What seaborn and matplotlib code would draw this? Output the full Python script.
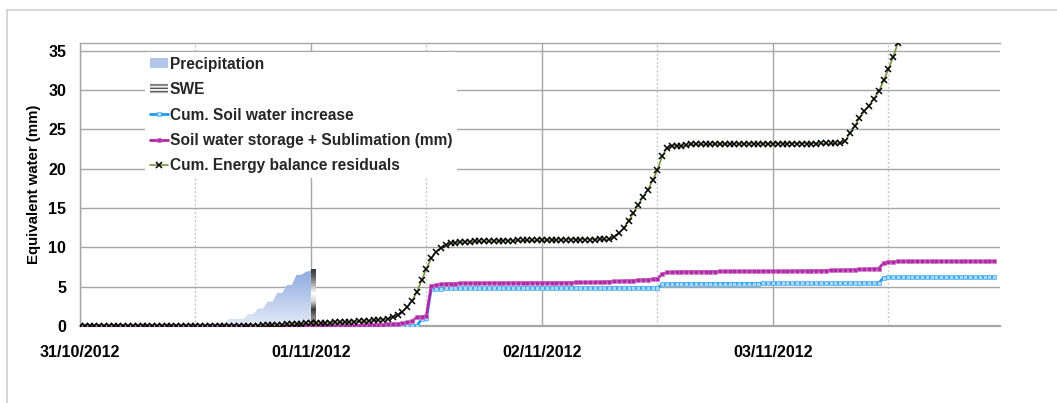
import numpy as np
import pandas as pd
import matplotlib
matplotlib.use("Agg")
import matplotlib.pyplot as plt
import seaborn as sns
from matplotlib.patches import Patch
from matplotlib.lines import Line2D
from matplotlib.colors import LinearSegmentedColormap

# ---------------- data (half-hourly steps from 31/10/2012 00:00) ----------------
tick_labels = ["31/10/2012", "01/11/2012", "02/11/2012", "03/11/2012"]
steps_per_day = 48

precipitation = ([0.0] * 27 + [0.4] * 4 + [0.9] * 4 + [1.5, 1.5, 2.2, 2.2, 3.1, 3.1,
                 4.2, 4.2, 5.2, 5.2, 6.5, 6.5, 6.9, 7.0])

swe_step = [48]
swe_values = [7.3]

energy_residuals = (
    [0.0] * 35
    + [0.02, 0.04, 0.06, 0.08, 0.10, 0.12, 0.15, 0.18, 0.20, 0.23, 0.26, 0.30, 0.33]
    + [0.35, 0.37, 0.39, 0.41, 0.43, 0.45, 0.47, 0.50, 0.52, 0.55, 0.58, 0.62, 0.66, 0.70, 0.75, 0.82]
    + [0.90, 1.10, 1.40, 1.80, 2.40, 3.20, 4.30, 5.80, 7.30, 8.60, 9.40, 9.90, 10.30, 10.50, 10.60, 10.65]
    + [10.70, 10.72, 10.74, 10.76, 10.78, 10.80, 10.80, 10.82, 10.84, 10.85, 10.86, 10.87, 10.88,
       10.90, 10.90, 10.91, 10.92, 10.93, 10.94, 10.95, 10.95, 10.96, 10.97, 10.97, 10.98, 10.98,
       10.99, 10.99, 11.00, 11.00, 11.00]
    + [11.3, 11.8, 12.4, 13.4, 14.3, 15.4, 16.4, 17.3, 18.5, 19.8, 21.6, 22.6, 22.9, 22.9, 22.9, 22.95]
    + [23.10, 23.10, 23.11, 23.11, 23.12, 23.12, 23.13, 23.13, 23.14, 23.14, 23.15, 23.15, 23.15,
       23.16, 23.16, 23.16, 23.17, 23.17, 23.17, 23.18, 23.18, 23.18, 23.18, 23.19, 23.19, 23.19,
       23.19, 23.20, 23.20, 23.20, 23.20]
    + [23.2]
    + [23.5, 24.5, 25.4, 26.4, 27.3, 28.0, 28.9, 29.8, 31.2, 32.6, 34.2, 36.0, 37.5]
)

soil_storage_sublimation = (
    [0.0] * 56
    + [0.02, 0.04, 0.06, 0.08, 0.10, 0.12, 0.15, 0.18]
    + [0.20, 0.25, 0.30, 0.35, 0.45, 0.60, 1.10, 1.20, 1.30]
    + [5.10, 5.20, 5.30, 5.35, 5.40, 5.40, 5.45, 5.45]
    + [5.45, 5.45, 5.46, 5.46, 5.47, 5.47, 5.48, 5.48, 5.48, 5.49, 5.49, 5.49, 5.50, 5.50, 5.50,
       5.50, 5.51, 5.51, 5.51, 5.52, 5.52, 5.52, 5.53, 5.53, 5.53]
    + [5.55, 5.57, 5.59, 5.61, 5.63, 5.66, 5.69, 5.72, 5.75, 5.78, 5.82, 5.86, 5.90, 5.95, 6.00]
    + [6.60, 6.80, 6.85, 6.88, 6.90, 6.90, 6.91, 6.91, 6.92, 6.92]
    + [6.92, 6.92, 6.93, 6.93, 6.93, 6.94, 6.94, 6.94, 6.95, 6.95, 6.95, 6.96, 6.96, 6.96, 6.97,
       6.97, 6.97, 6.98, 6.98, 7.00]
    + [7.01, 7.02, 7.03, 7.04, 7.05, 7.06, 7.08, 7.10, 7.12, 7.14, 7.16, 7.18, 7.21, 7.24, 7.27, 7.30]
    + [8.00, 8.10, 8.15] + [8.2] * 21
)

soil_water_increase = (
    [0.0] * 71
    + [0.90, 1.00]
    + [4.75, 4.76, 4.76, 4.77, 4.77, 4.77, 4.78, 4.78, 4.78, 4.78, 4.79, 4.79, 4.79, 4.79, 4.79, 4.80,
       4.80, 4.80, 4.80, 4.80, 4.80, 4.80, 4.81, 4.81, 4.81, 4.81, 4.81, 4.81, 4.81, 4.81, 4.82, 4.82,
       4.82, 4.82, 4.82, 4.82, 4.82, 4.82, 4.82, 4.82, 4.82, 4.82, 4.83, 4.83, 4.83, 4.83, 4.83, 4.83]
    + [5.30, 5.33, 5.35, 5.36, 5.36, 5.37, 5.37, 5.37, 5.38, 5.38, 5.38, 5.38, 5.39, 5.39, 5.39, 5.39,
       5.40, 5.40, 5.40, 5.40, 5.40, 5.41, 5.41, 5.41, 5.41, 5.41, 5.41, 5.42, 5.42, 5.42, 5.42, 5.42,
       5.42, 5.42, 5.42, 5.43, 5.43, 5.43, 5.43, 5.43, 5.43, 5.43, 5.43, 5.44, 5.44, 5.44]
    + [6.15] + [6.2] * 23
)

# ---------------- styling ----------------
sns.set_theme(style="white")
plt.rcParams["font.family"] = ["Liberation Sans", "DejaVu Sans"]
plt.rcParams["font.weight"] = "bold"

fig = plt.figure(figsize=(10.57, 4.03), dpi=100)
ax = fig.add_axes([80 / 1057, 1 - 326 / 403, 920 / 1057, (326 - 42.7) / 403])

grid_c = "#a6a6a6"
fs_leg = 11.2
fs_tick = 11.5
fs_lab = 10.8

# precipitation area with vertical gradient
px = np.arange(len(precipitation))
poly = ax.fill_between(px, 0, precipitation, color="none", lw=0, zorder=2)
pcmap = LinearSegmentedColormap.from_list("pg", ["#e4ebf6", "#8eaadf"])
grad = np.linspace(0, 1, 256).reshape(-1, 1)
im = ax.imshow(grad, cmap=pcmap, origin="lower", aspect="auto",
               extent=(px.min(), px.max(), 0, max(precipitation)), zorder=2)
im.set_clip_path(poly.get_paths()[0], transform=ax.transData)

# SWE bar with metallic gradient
bars = ax.bar(swe_step, swe_values, width=1.0, align="edge", color="none", lw=0, zorder=3)
scmap = LinearSegmentedColormap.from_list(
    "sg", ["#2a2a2a", "#8a8a8a", "#3a3a3a", "#d8d8d8", "#ffffff", "#b0b0b0", "#606060", "#2e2e2e"])
for b, v, s in zip(bars, swe_values, swe_step):
    im2 = ax.imshow(grad, cmap=scmap, origin="lower", aspect="auto",
                    extent=(s, s + 1, 0, v), zorder=3)
    im2.set_clip_path(b)

# lines
blue_c = "#1e9cf0"
mag_c = "#b02aa6"
green_c = "#77933c"

sns.lineplot(x=np.arange(len(soil_water_increase)), y=soil_water_increase, ax=ax, color=blue_c,
             lw=2.0, marker="s", markersize=2.2, markerfacecolor="#a8d8fb",
             markeredgecolor=blue_c, markeredgewidth=0.4, zorder=4)
sns.lineplot(x=np.arange(len(soil_storage_sublimation)), y=soil_storage_sublimation, ax=ax,
             color=mag_c, lw=2.0, marker="s", markersize=3.0, markerfacecolor=mag_c,
             markeredgecolor="#d070c8", markeredgewidth=0.4, zorder=5)
sns.lineplot(x=np.arange(len(energy_residuals)), y=energy_residuals, ax=ax, color=green_c,
             lw=1.2, marker="x", markersize=3.8, markeredgecolor="black",
             markeredgewidth=1.1, zorder=6)

# axes
n_days = len(tick_labels)
ax.set_xlim(0, len(soil_water_increase) + 0.2)
ax.set_ylim(0, 36)
ax.set_yticks(np.arange(0, 36, 5))
ax.set_xticks(np.arange(n_days) * steps_per_day)
ax.set_xticklabels(tick_labels)
ax.set_xticks(np.arange(n_days) * steps_per_day + steps_per_day // 2, minor=True)

ax.grid(axis="y", which="major", color=grid_c, lw=1.0, zorder=0)
ax.grid(axis="x", which="major", color=grid_c, lw=1.0, zorder=0)
ax.grid(axis="x", which="minor", color="#c8c8c8", lw=1.0, ls=(0, (1.5, 1.5)), zorder=0)
ax.set_axisbelow(True)

for side in ["left", "top"]:
    ax.spines[side].set_color(grid_c)
    ax.spines[side].set_linewidth(1.0)
ax.spines["bottom"].set_color(grid_c)
ax.spines["bottom"].set_linewidth(1.6)
ax.spines["right"].set_visible(False)

ax.tick_params(axis="both", which="major", direction="out", length=6, width=1,
               color=grid_c, labelsize=fs_tick, labelcolor="black")
ax.tick_params(axis="x", which="major", pad=8)
ax.tick_params(axis="y", which="major", pad=4)
ax.tick_params(axis="x", which="minor", length=0)
for lab in ax.get_xticklabels() + ax.get_yticklabels():
    lab.set_fontweight("bold")

ax.set_ylabel("Equivalent water (mm)", fontsize=fs_lab, fontweight="bold", color="black",
              labelpad=5)
ax.set_xlabel("")

# legend
handles = [
    Patch(facecolor="#b3c6e9", edgecolor="none"),
    Patch(facecolor="#f0f0f0", edgecolor="#555555", hatch="-----", lw=0),
    Line2D([], [], color=blue_c, lw=2.0, marker="s", markersize=2.2,
           markerfacecolor="#a8d8fb", markeredgecolor=blue_c, markeredgewidth=0.4),
    Line2D([], [], color=mag_c, lw=2.0, marker="s", markersize=3.0,
           markerfacecolor=mag_c, markeredgecolor="#d070c8", markeredgewidth=0.4),
    Line2D([], [], color=green_c, lw=1.2, marker="x", markersize=3.8,
           markeredgecolor="black", markeredgewidth=1.1),
]
labels = ["Precipitation", "SWE", "Cum. Soil water increase",
          "Soil water storage + Sublimation (mm)", "Cum. Energy balance residuals"]
leg = ax.legend(handles, labels, loc="upper left", bbox_to_anchor=(0.071, 0.967),
                frameon=True, facecolor="white", edgecolor="none", framealpha=1,
                prop={"weight": "bold", "size": fs_leg},
                handlelength=1.15, handleheight=0.65, handletextpad=0.12,
                labelspacing=0.67, borderpad=0.3, borderaxespad=0)
leg.set_zorder(7)

# outer chart border (left and top only visible)
fig.add_artist(Line2D([7 / 1057, 7 / 1057], [0, 1 - 10 / 403], transform=fig.transFigure,
                      color="#d0d0d0", lw=1.2))
fig.add_artist(Line2D([7 / 1057, 1], [1 - 10 / 403, 1 - 10 / 403], transform=fig.transFigure,
                      color="#d0d0d0", lw=1.2))

fig.savefig("out.png", dpi=100, facecolor="white")
